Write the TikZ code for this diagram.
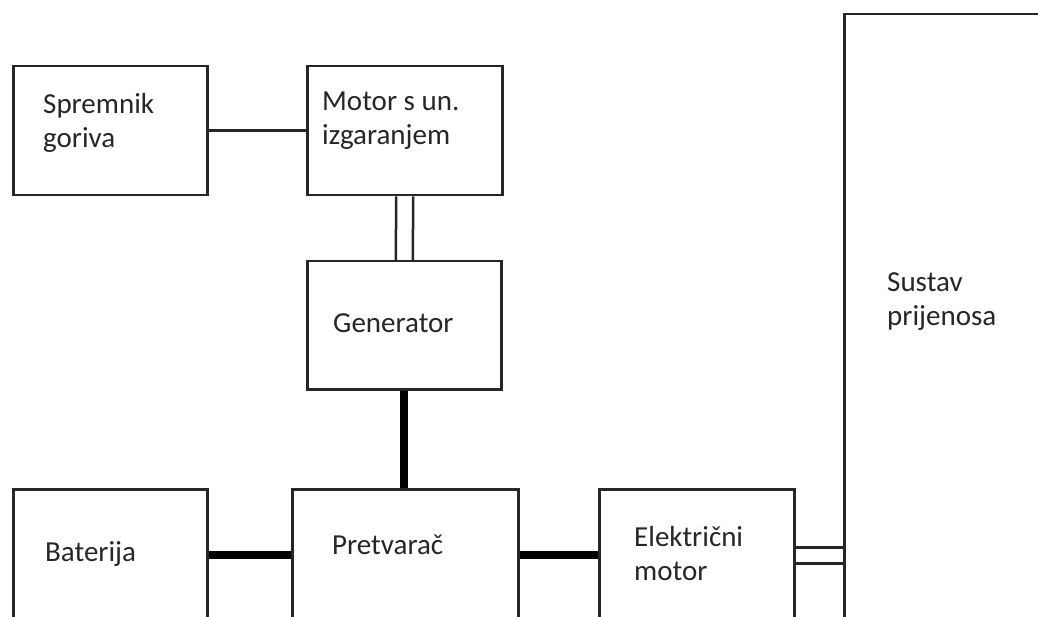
\documentclass[tikz,border=0pt]{standalone}
\usepackage{fontspec}
\setmainfont{Carlito}
\usetikzlibrary{positioning}
\tikzset{
    blok/.style={
           rectangle,
           draw=black!85, line width=2.5pt,
           inner sep=0pt,
           anchor=north west,
           },
}
\tikzset{
    natpis/.style={
           anchor=base west,
           inner sep=0pt,
           align=left,
           text=black!85,
           font=\fontsize{29}{34}\selectfont,
           },
}
\begin{document}
\begin{tikzpicture}[x=1pt,y=-1pt]
\useasboundingbox (0,0) rectangle (1038,617);
\clip (0,0) rectangle (1038,617);
\node[blok,minimum width=194pt,minimum height=129pt] (spremnik) at (12,65) {};
\node[blok,minimum width=195pt,minimum height=129pt] (motor) at (306,65) {};
\node[blok,minimum width=194pt,minimum height=128pt] (generator) at (306,260) {};
\node[blok,minimum width=194pt,minimum height=132pt] (baterija) at (12,488) {};
\node[blok,minimum width=226pt,minimum height=132pt] (pretvarac) at (291,488) {};
\node[blok,minimum width=195pt,minimum height=132pt] (elmotor) at (598,488) {};
\node[blok,minimum width=230pt,minimum height=620pt] (prijenos) at (843,13) {};
% tekst u blokovima
\node[natpis] (spremnikt) at (43,148) {Spremnik\\goriva};
\node[natpis] (motort) at (322,145) {Motor s un.\\izgaranjem};
\node[natpis] (generatort) at (333,333) {Generator};
\node[natpis] (baterijat) at (45,561) {Baterija};
\node[natpis] (pretvaract) at (332,554) {Pretvarač};
\node[natpis] (elmotort) at (634,580) {Električni\\motor};
\node[natpis] (prijenost) at (887,326) {Sustav\\prijenosa};
% veze
\draw[line width=2.5pt,black!85] (spremnik.east) -- (motor.west);
\draw[line width=2.5pt,black!85] ([xshift=-8.5pt]motor.south) -- ([xshift=-8.5pt]generator.north);
\draw[line width=2.5pt,black!85] ([xshift=8.5pt]motor.south) -- ([xshift=8.5pt]generator.north);
\draw[line width=8pt] (generator.south) -- (generator.south |- pretvarac.north);
\draw[line width=8pt] (baterija.east) -- (pretvarac.west);
\draw[line width=8pt] (pretvarac.east) -- (elmotor.west);
\draw[line width=2.5pt,black!85] ([yshift=-8pt]elmotor.east) -- ([yshift=-8pt]elmotor.east -| prijenos.west);
\draw[line width=2.5pt,black!85] ([yshift=8pt]elmotor.east) -- ([yshift=8pt]elmotor.east -| prijenos.west);
\end{tikzpicture}
\end{document}
